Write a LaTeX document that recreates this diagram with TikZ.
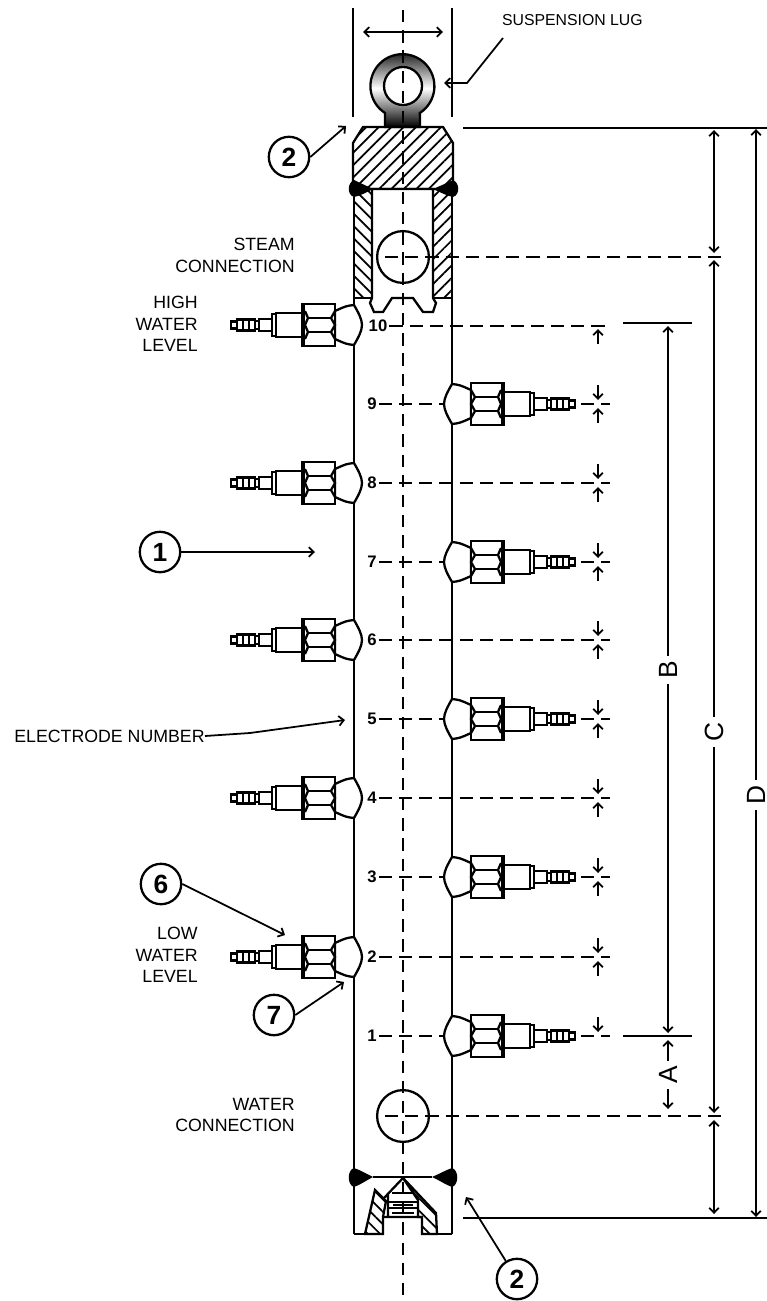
\documentclass[tikz,border=0pt]{standalone}
\usepackage{fontspec}
\setmainfont{Liberation Sans}
\usetikzlibrary{patterns.meta,arrows.meta}

\tikzset{
    line/.style={line width=1.3pt},
    thinline/.style={line width=1pt},
    dashline/.style={line width=0.9pt, dash pattern=on 7.5pt off 4pt},
    centerline/.style={line width=1.2pt, dash pattern=on 7pt off 4.5pt},
    hatchne/.style={pattern={Lines[angle=45,distance=5pt,line width=1pt]}},
    hatchnw/.style={pattern={Lines[angle=-45,distance=5pt,line width=1pt]}},
    caption/.style={align=right, anchor=east, inner sep=0pt, font=\fontsize{10.1}{12.4}\selectfont},
    elnum/.style={font=\fontsize{9.5}{10}\selectfont\bfseries, inner sep=1pt},
    callout/.style={draw, circle, line width=1.3pt, fill=white, minimum size=23pt, inner sep=0pt, font=\fontsize{15}{15}\selectfont\bfseries},
    dimlabel/.style={fill=white, rotate=90, inner xsep=3pt, inner ysep=0pt, font=\fontsize{15}{15}\selectfont},
    electrode/.pic={
        % boss, on the wall
        \draw[line, fill=white] (0,-20) .. controls (-4,-13) and (-8,-6) .. (-8,0)
            .. controls (-8,6) and (-4,13) .. (0,20)
            .. controls (8,19) .. (19,14) -- (19,-14) .. controls (8,-19) .. (0,-20) -- cycle;
        % nut
        \draw[line, fill=white] (19,-21) rectangle (52,21);
        \draw[line] (19,-14) -- (23,-7) -- (19,0) -- (23,7) -- (19,14);
        \draw[line] (49,-14) -- (46,-7) -- (49,0) -- (46,7) -- (49,14);
        \draw[line] (23,-7) -- (46,-7) (23,7) -- (46,7);
        \fill (49,-21) rectangle (52,21);
        % body and tip
        \draw[line, fill=white] (52,-12) rectangle (78,12);
        \draw[line, fill=white] (78,-11) rectangle (82,11);
        \draw[line, fill=white] (82,-6) rectangle (95,6);
        \draw[line, fill=white] (95,-4) rectangle (99,4);
        \draw[line, fill=white] (99,-5.5) rectangle (117,5.5);
        \foreach \rib in {105,111}
            \draw[line] (\rib,-5.5) -- (\rib,5.5);
        \draw[line, fill=white] (117,-3.5) rectangle (123,3.5);
    }
}

\begin{document}
\begin{tikzpicture}[x=0.02cm, y=-0.02cm, >={Straight Barb[length=2.8pt,width=5.5pt]}]
    \useasboundingbox (0,0) rectangle (767,1301);

    % electrode numbers and their levels
    \foreach \num/\posx/\posy in {10/378/326,9/372/404,8/372/483,7/372/562,6/372/640,5/372/719,4/372/798,3/372/877,2/372/957,1/372/1036} {
        \node[elnum] (n\num) at (\posx,\posy) {\num};
        \coordinate (e\num) at (610,\posy);
        \draw[dashline] (n\num) -- (e\num);
    }

    % pipe
    \coordinate (lwt) at (354,298);
    \coordinate (lwb) at (354,1234);
    \coordinate (rwt) at (452,298);
    \coordinate (rwb) at (452,1234);
    \draw[line] (lwt) -- (lwb);
    \draw[line] (rwt) -- (rwb);

    % electrodes
    \foreach \posy in {325,483,640,798,957}
        \pic[xscale=-1] at (354,\posy) {electrode};
    \foreach \posy in {404,562,719,877,1036}
        \pic at (452,\posy) {electrode};

    % eye bolt
    \draw[line, top color=black!95, bottom color=black, middle color=white]
        (385,127) -- (385,113) arc[start angle=123, end angle=417, radius=32] -- (420,127) -- cycle;
    \draw[line, fill=white] (403,86) circle[radius=19];

    % top section
    \draw[line, hatchne] (363,127) -- (443,127) -- (453,143) -- (453,189) -- (353,189) -- (353,143) -- cycle;
    \draw[line, hatchnw] (354,189) -- (372,189) -- (372,298) -- (354,298) -- cycle;
    \draw[line, hatchne] (433,189) -- (452,189) -- (452,298) -- (433,298) -- cycle;
    \draw[line, fill=white] (372,189) -- (433,189) -- (433,298) -- (436,303) -- (433,312) -- (423,312) -- (413,298) -- (392,298)
        -- (383,312) -- (374,312) -- (370,303) -- (372,298) -- cycle;
    \fill (354,180) .. controls (347,183) and (347,195) .. (354,197) .. controls (360,196) and (367,192) .. (373,189)
        .. controls (367,186) and (360,183) .. (354,180) -- cycle;
    \fill (453,180) .. controls (460,183) and (460,195) .. (453,197) .. controls (447,196) and (440,192) .. (433,189)
        .. controls (440,186) and (447,183) .. (453,180) -- cycle;

    % connections
    \node[draw, line, circle, minimum size=52*0.567pt, inner sep=0pt] (steam) at (403,257) {};
    \node[draw, line, circle, minimum size=52*0.567pt, inner sep=0pt] (water) at (403,1116) {};
    \coordinate (steamr) at (728,257);
    \coordinate (steaml) at (385,257);
    \coordinate (waterr) at (728,1116);
    \coordinate (waterl) at (385,1116);
    \draw[dashline] (steaml) -- (steamr);
    \draw[dashline] (waterl) -- (waterr);

    % bottom section
    \draw[line] (354,1234) -- (383,1234) (422,1234) -- (452,1234);
    \draw[line] (373,1177) -- (432,1177);
    \draw[line, hatchnw] (365,1234) -- (375,1190) -- (386,1201) -- (383,1217) -- (383,1234) -- cycle;
    \draw[line, hatchnw] (403,1178) -- (436,1213) -- (437,1234) -- (422,1234) -- (422,1217) -- (418,1217) -- (418,1200) -- cycle;
    \draw[line] (403,1178) -- (384,1198) (388,1193) -- (388,1217) (383,1217) -- (422,1217);
    \foreach \posy/\halfw in {1193/11,1202/15,1205/10,1208/15,1213/11}
        \draw[thinline] (403-\halfw,\posy) -- (403+\halfw,\posy);
    \fill (354,1168) .. controls (347,1170) and (347,1185) .. (354,1187) .. controls (360,1185) and (367,1180) .. (373,1177)
        .. controls (367,1174) and (360,1170) .. (354,1168) -- cycle;
    \fill (452,1168) .. controls (459,1170) and (459,1185) .. (452,1187) .. controls (446,1185) and (439,1180) .. (432,1177)
        .. controls (439,1174) and (446,1170) .. (452,1168) -- cycle;

    % center line
    \coordinate (clt) at (403,10);
    \coordinate (clb) at (403,1295);
    \draw[centerline] (clt) -- (clb);

    % width at the top
    \coordinate (wl) at (353,8);
    \coordinate (wlb) at (353,117);
    \coordinate (wr) at (452,8);
    \coordinate (wrb) at (452,117);
    \draw[line] (wl) -- (wlb);
    \draw[line] (wr) -- (wrb);
    \coordinate (wal) at (363,32);
    \coordinate (war) at (443,32);
    \draw[thinline, <->] (wal) -- (war);

    % extension lines
    \coordinate (tl) at (463,128);
    \coordinate (tr) at (767,128);
    \coordinate (bl) at (463,1218);
    \coordinate (br) at (767,1218);
    \coordinate (ll) at (623,323);
    \coordinate (lr) at (692,323);
    \coordinate (el) at (623,1036);
    \coordinate (er) at (692,1036);
    \draw[line] (tl) -- (tr);
    \draw[line] (bl) -- (br);
    \draw[line] (ll) -- (lr);
    \draw[line] (el) -- (er);

    % small arrows at the levels
    \foreach \posy in {404,483,562,640,719,798,877,957,1036} {
        \coordinate (da) at (598,\posy-19);
        \coordinate (db) at (598,\posy-4);
        \draw[thinline, ->] (da) -- (db);
    }
    \foreach \posy in {325,404,483,562,640,719,798,877,957} {
        \coordinate (ua) at (598,\posy+19);
        \coordinate (ub) at (598,\posy+4);
        \draw[thinline, ->] (ua) -- (ub);
    }

    % dimensions
    \node[dimlabel] (dimD) at (756,795) {D};
    \coordinate (dt) at (756,129);
    \coordinate (db) at (756,1217);
    \draw[thinline, ->] (dimD) -- (dt);
    \draw[thinline, ->] (dimD) -- (db);
    \node[dimlabel] (dimC) at (714,732) {C};
    \coordinate (ct) at (714,260);
    \coordinate (cb) at (714,1113);
    \draw[thinline, ->] (dimC) -- (ct);
    \draw[thinline, ->] (dimC) -- (cb);
    \node[dimlabel] (dimB) at (668,670) {B};
    \coordinate (bt) at (668,326);
    \coordinate (bb) at (668,1033);
    \draw[thinline, ->] (dimB) -- (bt);
    \draw[thinline, ->] (dimB) -- (bb);
    \node[dimlabel] (dimA) at (668,1075) {A};
    \coordinate (at) at (668,1040);
    \coordinate (ab) at (668,1109);
    \draw[thinline, ->] (dimA) -- (at);
    \draw[thinline, ->] (dimA) -- (ab);
    \coordinate (e1t) at (714,130);
    \coordinate (e1b) at (714,253);
    \coordinate (e2t) at (714,1120);
    \coordinate (e2b) at (714,1214);
    \draw[thinline, <->] (e1t) -- (e1b);
    \draw[thinline, <->] (e2t) -- (e2b);

    % captions
    \node[caption, font=\fontsize{9}{12}\selectfont] (lug) at (643,20) {SUSPENSION LUG};
    \node[caption] (steamtxt) at (295,255) {STEAM\\CONNECTION};
    \node[caption] (hightxt) at (198,324) {HIGH\\WATER\\LEVEL};
    \node[caption] (lowtxt) at (198,955) {LOW\\WATER\\LEVEL};
    \node[caption] (watertxt) at (295,1115) {WATER\\CONNECTION};
    \node[caption] (eltxt) at (205,736) {ELECTRODE NUMBER};

    % callouts and leaders
    \coordinate (lugtip) at (444,83);
    \coordinate (lugbend) at (467,83);
    \coordinate (lugend) at (503,38);
    \draw[thinline, <-] (lugtip) -- (lugbend) -- (lugend);
    \coordinate (eltip) at (345,720);
    \coordinate (elbend) at (250,733);
    \draw[thinline, ->] (eltxt.east) -- (elbend) -- (eltip);
    \node[callout] (c2t) at (289,157) {2};
    \coordinate (c2ttip) at (346,126);
    \draw[thinline, ->] (c2t.east) -- (c2ttip);
    \node[callout] (c1) at (160,552) {1};
    \coordinate (c1tip) at (315,552);
    \draw[thinline, ->] (c1) -- (c1tip);
    \node[callout] (c6) at (161,884) {6};
    \coordinate (c6tip) at (285,935);
    \draw[thinline, ->] (c6.east) -- (c6tip);
    \node[callout] (c7) at (274,1015) {7};
    \coordinate (c7tip) at (344,982);
    \draw[thinline, ->] (c7.east) -- (c7tip);
    \node[callout] (c2b) at (517,1279) {2};
    \coordinate (c2btip) at (466,1197);
    \draw[thinline, ->] (c2b) -- (c2btip);
\end{tikzpicture}
\end{document}
